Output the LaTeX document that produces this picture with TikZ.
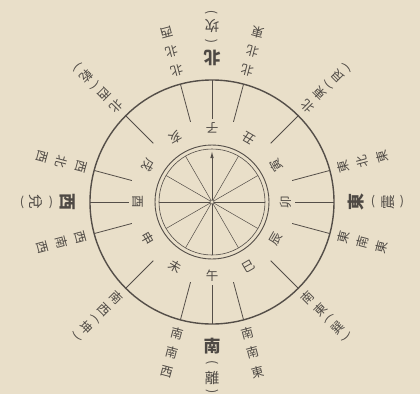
\documentclass[tikz,border=0pt]{standalone}
\usepackage{fontspec}
\newfontfamily\cjk{Noto Sans CJK JP}
\usetikzlibrary{arrows.meta}
\definecolor{bg}{RGB}{233,223,201}
\definecolor{ink}{RGB}{84,78,72}
\definecolor{txt}{RGB}{78,73,68}
\newcommand\olab[5]{\node[#5, rotate={180-#2}] (#1) at ({90-#2}:#3) {#4};}
\newcommand\plab[5]{\node[#5, rotate={90-#2}] (#1) at ({90-#2}:#3) {#4};}
\begin{document}
\begin{tikzpicture}[x=1pt,y=1pt,
  ch/.style={text=txt, inner sep=0pt, font=\cjk\fontsize{12.5}{12.5}\selectfont},
  brch/.style={text=txt, inner sep=0pt, font=\cjk\fontsize{12.5}{12.5}\selectfont},
  bigch/.style={text=txt, inner sep=0pt, font=\cjk\bfseries\fontsize{17}{17}\selectfont},
  trch/.style={text=txt, inner sep=0pt, font=\cjk\fontsize{14.5}{14.5}\selectfont},
  par/.style={text=txt, inner sep=0pt, font=\cjk\fontsize{12.5}{12.5}\selectfont},
  ring/.style={circle, draw=ink, inner sep=0pt}]
\fill[bg] (-212,-192) rectangle (208,202);
\useasboundingbox (-212,-192) rectangle (208,202);
% circles
\node[ring, line width=1.4pt, minimum size=244pt] (outer) at (0,0) {};
\node[ring, line width=0.9pt, minimum size=114pt] (comp) at (0,0) {};
\node[ring, line width=0.6pt, minimum size=106pt] (compin) at (0,0) {};
\node[ring, line width=0.6pt, minimum size=4pt] (hub) at (0,0) {};
% dividing lines of the middle ring
\foreach \b in {0,15,45,75,90,105,135,165,180,195,225,255,270,285,315,345}
  \draw[ink, line width=0.8pt] ({90-\b}:83) -- ({90-\b}:122);
% inner compass spokes
\foreach \a in {30,60,120,150,210,240,300,330}
  \draw[ink, line width=0.5pt] (hub.\a) -- (\a:53);
\foreach \a in {0,180,270}
  \draw[ink, line width=1pt] (hub.\a) -- (\a:53);
\draw[ink, line width=1pt, -{Latex[length=7pt,width=3.5pt]}] (hub.90) -- (90:51);
% twelve branches
\foreach \c [count=\i from 0] in {子,丑,寅,卯,辰,巳,午,未,申,酉,戌,亥}
  \node[brch, rotate={180-30*\i}] (br\i) at ({90-30*\i}:74) {\c};
% three-character directions
\foreach \b/\x/\y/\z [count=\k] in {15/北/北/東, 75/東/北/東, 105/東/南/東, 165/南/南/東,
    195/南/南/西, 255/西/南/西, 285/西/北/西, 345/北/北/西}{
  \olab{s\k a}{\b}{136}{\x}{ch}
  \olab{s\k b}{\b}{156}{\y}{ch}
  \olab{s\k c}{\b}{176}{\z}{ch}
}
% diagonal directions with trigram
\foreach \b/\x/\y/\z [count=\k] in {45/北/東/艮, 135/南/東/巽, 225/南/西/坤, 315/北/西/乾}{
  \olab{d\k a}{\b}{135}{\x}{ch}
  \olab{d\k b}{\b}{153}{\y}{ch}
  \plab{d\k o}{\b}{165}{(}{par}
  \olab{d\k c}{\b}{178}{\z}{ch}
  \plab{d\k e}{\b}{191}{)}{par}
}
% cardinal directions with trigram
\foreach \b/\x/\z [count=\k] in {0/北/坎, 90/東/震, 180/南/離, 270/西/兌}{
  \olab{c\k a}{\b}{144}{\x}{bigch}
  \plab{c\k o}{\b}{161}{(}{par}
  \olab{c\k c}{\b}{176}{\z}{trch}
  \plab{c\k e}{\b}{190}{)}{par}
}
\end{tikzpicture}
\end{document}
